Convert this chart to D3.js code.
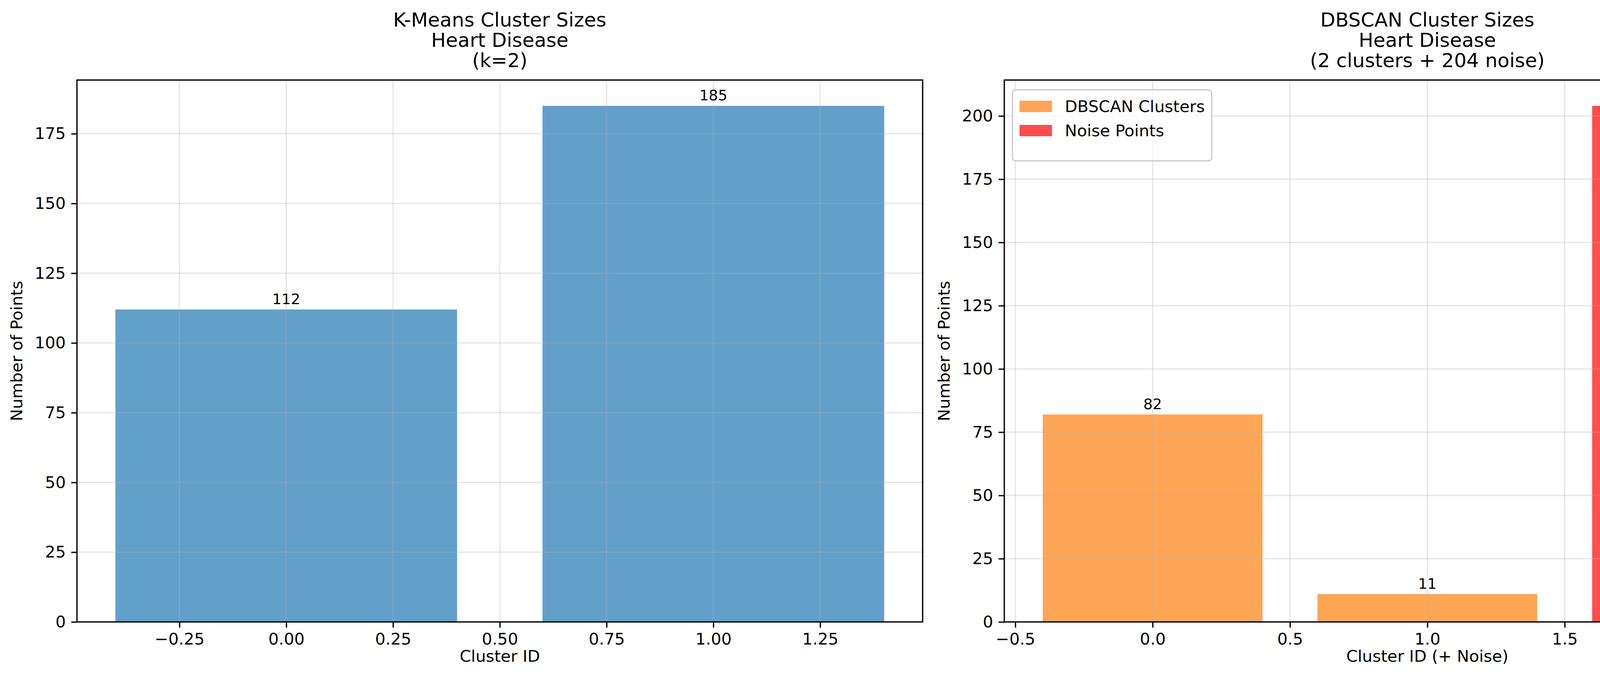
<!DOCTYPE html>
<html>
<head>
<meta charset="utf-8">
<script src="https://cdn.jsdelivr.net/npm/d3@7"></script>
<style>
  body { margin: 0; background: #fff; }
  text { font-family: "DejaVu Sans", sans-serif; fill: #000; }
</style>
</head>
<body>
<svg id="chart" width="4764" height="1752"></svg>
<script>
// K-Means panel
const kmIds = [0, 1];
const kmSizes = [112, 185];
const kmXTicks = [-0.25, 0, 0.25, 0.5, 0.75, 1, 1.25];
const kmYTicks = [0, 25, 50, 75, 100, 125, 150, 175];
const kmTitle = ["K-Means Cluster Sizes", "Heart Disease", "(k=2)"];

// DBSCAN panel
const dbIds = [0, 1, 2];
const dbSizes = [82, 11, 204];
const dbKinds = ["cluster", "cluster", "noise"];
const dbXTicks = [-0.5, 0, 0.5, 1, 1.5, 2, 2.5];
const dbYTicks = [0, 25, 50, 75, 100, 125, 150, 175, 200];
const dbTitle = ["DBSCAN Cluster Sizes", "Heart Disease", "(2 clusters + 204 noise)"];
const legendLabels = ["DBSCAN Clusters", "Noise Points"];

const svg = d3.select("#chart");
const plotTop = 205, plotBottom = 1593;

function panel(opts) {
  const g = svg.append("g");
  const x = d3.scaleLinear().domain(opts.xDomain).range([opts.left, opts.right]);
  const y = d3.scaleLinear().domain(opts.yDomain).range([plotBottom, plotTop]);

  // bars
  g.selectAll(".bar")
    .data(opts.ids)
    .enter()
    .append("rect")
    .attr("x", (d) => x(d - 0.4))
    .attr("width", x(0.8) - x(0))
    .attr("y", (d, i) => y(opts.sizes[i]))
    .attr("height", (d, i) => plotBottom - y(opts.sizes[i]))
    .attr("fill", (d, i) => opts.color(i))
    .attr("fill-opacity", 0.7);

  // grid on top
  const grid = g.append("g").attr("stroke", "#b0b0b0").attr("stroke-opacity", 0.3).attr("stroke-width", 3.3);
  opts.xTicks.forEach(t => grid.append("line").attr("x1", x(t)).attr("x2", x(t)).attr("y1", plotTop).attr("y2", plotBottom));
  opts.yTicks.forEach(t => grid.append("line").attr("x1", opts.left).attr("x2", opts.right).attr("y1", y(t)).attr("y2", y(t)));

  // bar labels
  g.selectAll(".lbl")
    .data(opts.ids)
    .enter()
    .append("text")
    .attr("x", (d) => x(d))
    .attr("y", (d, i) => y(opts.sizes[i]) - 14)
    .attr("text-anchor", "middle")
    .attr("font-size", 37.5)
    .text((d, i) => opts.sizes[i]);

  const fmt = opts.fmt;
  const xAxis = d3.axisBottom(x).tickValues(opts.xTicks).tickSize(14.6).tickPadding(14).tickFormat(d => fmt(d).replace("-", "\u2212"));
  const yAxis = d3.axisLeft(y).tickValues(opts.yTicks).tickSize(14.6).tickPadding(14);

  const gx = g.append("g").attr("transform", `translate(0,${plotBottom})`).call(xAxis);
  const gy = g.append("g").attr("transform", `translate(${opts.left},0)`).call(yAxis);
  [gx, gy].forEach(a => {
    a.select(".domain").remove();
    a.selectAll("line").attr("stroke-width", 3.3);
    a.selectAll("text").attr("font-size", 41.7).attr("font-family", "DejaVu Sans");
  });

  g.append("rect")
    .attr("x", opts.left).attr("y", plotTop)
    .attr("width", opts.right - opts.left).attr("height", plotBottom - plotTop)
    .attr("fill", "none").attr("stroke", "#000").attr("stroke-width", 3.3);

  const cx = (opts.left + opts.right) / 2;
  opts.title.forEach((t, i) => {
    g.append("text").attr("x", cx).attr("y", 68 + i * 52)
      .attr("text-anchor", "middle").attr("font-size", 50).text(t);
  });
  g.append("text").attr("x", cx).attr("y", 1695)
    .attr("text-anchor", "middle").attr("font-size", 41.7).text(opts.xLabel);
  g.append("text")
    .attr("transform", `translate(${opts.left - 140},${(plotTop + plotBottom) / 2}) rotate(-90)`)
    .attr("text-anchor", "middle").attr("font-size", 41.7).text("Number of Points");

  return { g, x, y };
}

panel({
  left: 197, right: 2362,
  xDomain: [-0.49, 1.49], yDomain: [0, 185 * 1.05],
  ids: kmIds, sizes: kmSizes, xTicks: kmXTicks, yTicks: kmYTicks,
  color: () => "#1f77b4", fmt: d3.format(".2f"),
  title: kmTitle, xLabel: "Cluster ID"
});

const p2 = panel({
  left: 2571, right: 4737,
  xDomain: [-0.54, 2.54], yDomain: [0, 204 * 1.05],
  ids: dbIds, sizes: dbSizes, xTicks: dbXTicks, yTicks: dbYTicks,
  color: (i) => dbKinds[i] === "noise" ? "#ff0000" : "#ff7f0e", fmt: d3.format(".1f"),
  title: dbTitle, xLabel: "Cluster ID (+ Noise)"
});

// legend
const lg = p2.g.append("g").attr("transform", "translate(2592,230)");
lg.append("rect").attr("width", 510).attr("height", 182).attr("rx", 8)
  .attr("fill", "#fff").attr("fill-opacity", 0.8).attr("stroke", "#ccc").attr("stroke-width", 3.3);
legendLabels.forEach((l, i) => {
  lg.append("rect").attr("x", 18).attr("y", 28 + i * 62).attr("width", 83).attr("height", 29)
    .attr("fill", i === 0 ? "#ff7f0e" : "#ff0000").attr("fill-opacity", 0.7);
  lg.append("text").attr("x", 134).attr("y", 57 + i * 62).attr("font-size", 41.7).text(l);
});
</script>
</body>
</html>
